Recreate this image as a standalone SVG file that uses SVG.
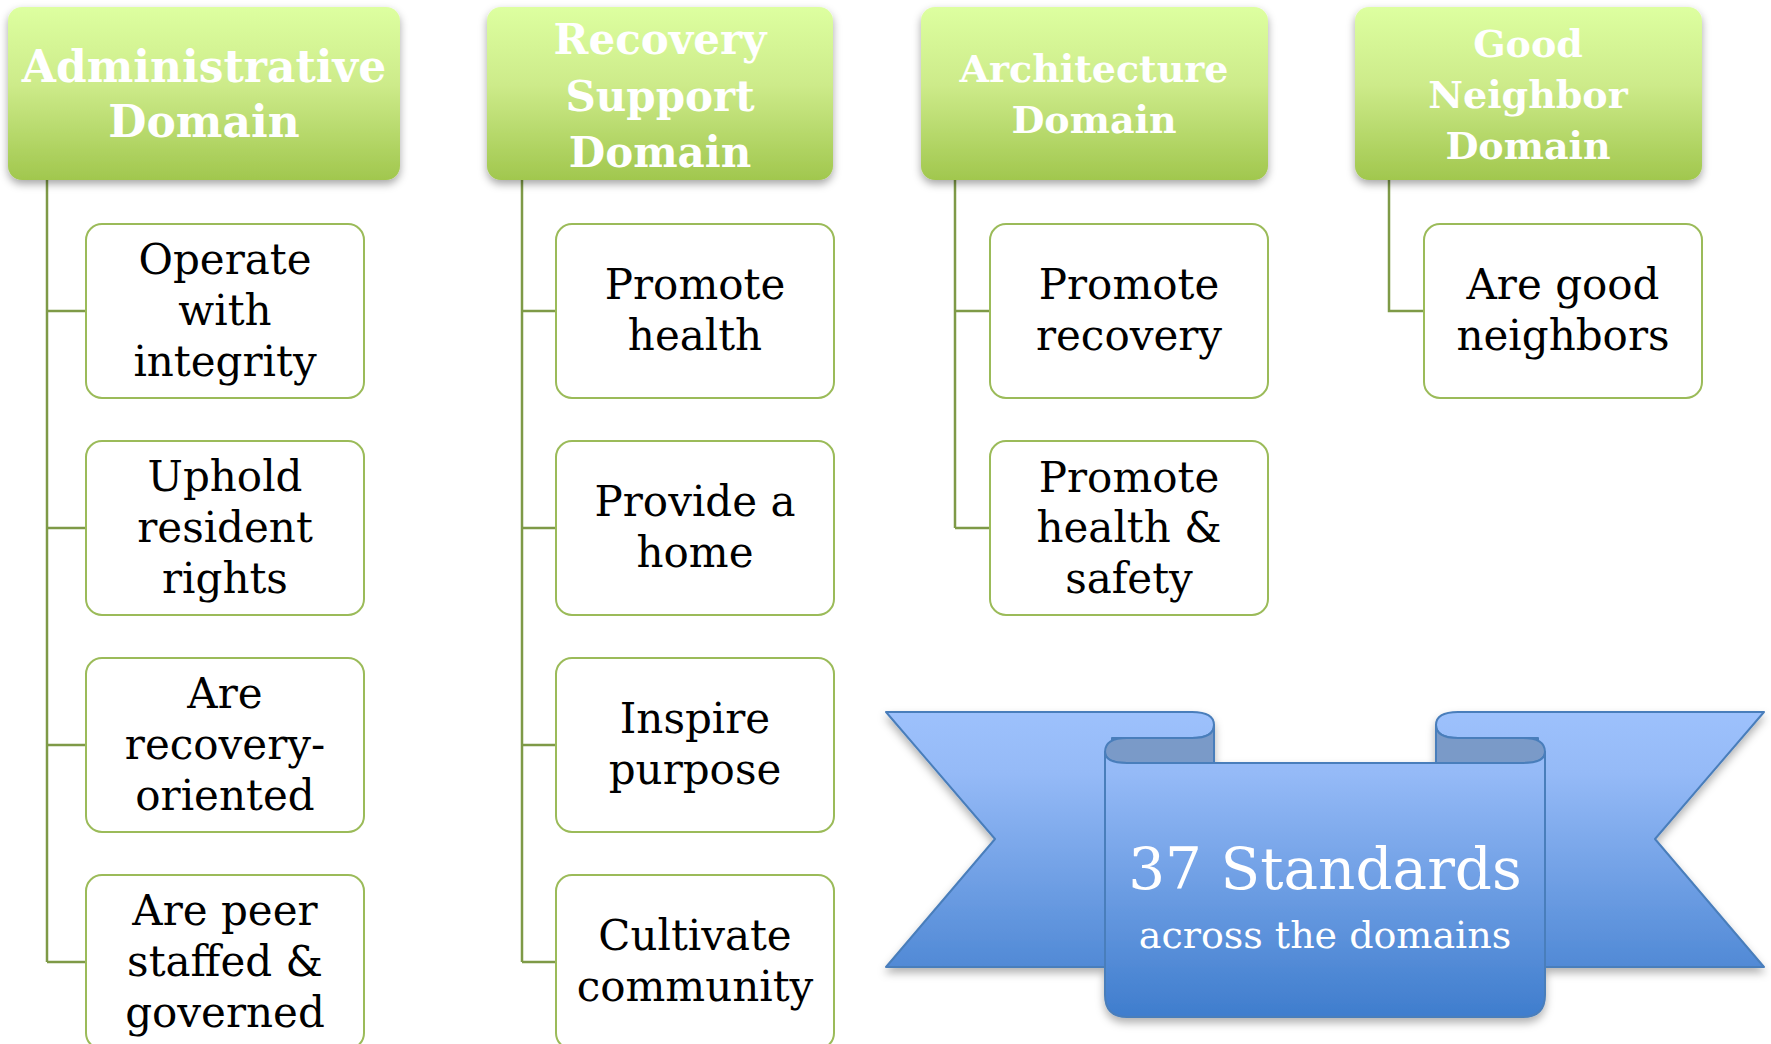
<svg xmlns="http://www.w3.org/2000/svg" width="1771" height="1044" viewBox="0 0 1771 1044">
  <defs>
    <linearGradient id="gHead" x1="0" y1="0" x2="0" y2="1">
      <stop offset="0" stop-color="#ddffa0"/>
      <stop offset="0.45" stop-color="#cdeb8a"/>
      <stop offset="1" stop-color="#a1c74e"/>
    </linearGradient>
    <linearGradient id="gBlue" gradientUnits="userSpaceOnUse" x1="0" y1="712" x2="0" y2="1017">
      <stop offset="0" stop-color="#9dc1fc"/>
      <stop offset="0.2" stop-color="#95baf7"/>
      <stop offset="1" stop-color="#3f7dcd"/>
    </linearGradient>
    <filter id="shadow" x="-10%" y="-10%" width="120%" height="130%">
      <feDropShadow dx="0" dy="4" stdDeviation="4" flood-color="#000" flood-opacity="0.35"/>
    </filter>
    <filter id="rshadow" x="-10%" y="-10%" width="120%" height="130%">
      <feDropShadow dx="0" dy="5" stdDeviation="4" flood-color="#000" flood-opacity="0.3"/>
    </filter>
  </defs>
  <style>
    .head { fill: url(#gHead); filter: url(#shadow); }
    .htxt { font-family: "DejaVu Serif", serif; font-weight: bold; fill: #ffffff; text-anchor: middle; }
    .box { fill: #ffffff; stroke: #9bbb59; stroke-width: 2; }
    .btxt { font-family: "DejaVu Serif", serif; font-size: 42px; fill: #000000; text-anchor: middle; }
    .conn { fill: none; stroke: #7e9a47; stroke-width: 2.5; }
    .rib { fill: url(#gBlue); stroke: #4a7ebb; stroke-width: 2; stroke-linejoin: round; }
    .fold { fill: #7a9ac8; stroke: #4a7ebb; stroke-width: 2; stroke-linejoin: round; }
    .rtxt { font-family: "DejaVu Serif", serif; fill: #ffffff; text-anchor: middle; }
  </style>

  <rect width="1771" height="1044" fill="#ffffff"/>

  <g id="connectors">
    <path class="conn" d="M47,180 V962 M47,311 H86 M47,528 H86 M47,745 H86 M47,962 H86"/>
    <path class="conn" d="M522,180 V962 M522,311 H556 M522,528 H556 M522,745 H556 M522,962 H556"/>
    <path class="conn" d="M955,180 V528 M955,311 H990 M955,528 H990"/>
    <path class="conn" d="M1389,180 V311 H1424"/>
  </g>

  <g id="admin-domain">
    <rect class="head" x="8" y="7" width="392" height="173" rx="14"/>
    <text class="htxt" font-size="44" x="204" y="82">Administrative</text>
    <text class="htxt" font-size="44" x="204" y="137">Domain</text>
  </g>
  <g id="recovery-domain">
    <rect class="head" x="487" y="7" width="346" height="173" rx="14"/>
    <text class="htxt" font-size="42" x="660" y="54">Recovery</text>
    <text class="htxt" font-size="42" x="660" y="111">Support</text>
    <text class="htxt" font-size="42" x="660" y="167">Domain</text>
  </g>
  <g id="architecture-domain">
    <rect class="head" x="921" y="7" width="347" height="173" rx="14"/>
    <text class="htxt" font-size="38" x="1094" y="82">Architecture</text>
    <text class="htxt" font-size="38" x="1094" y="133">Domain</text>
  </g>
  <g id="good-neighbor-domain">
    <rect class="head" x="1355" y="7" width="347" height="173" rx="14"/>
    <text class="htxt" font-size="38" x="1528" y="57">Good</text>
    <text class="htxt" font-size="38" x="1528" y="108">Neighbor</text>
    <text class="htxt" font-size="38" x="1528" y="159">Domain</text>
  </g>

  <g id="operate-with-integrity">
    <rect class="box" x="86" y="224" width="278" height="174" rx="16"/>
    <text class="btxt" x="225" y="274">Operate</text>
    <text class="btxt" x="225" y="325">with</text>
    <text class="btxt" x="225" y="376">integrity</text>
  </g>
  <g id="uphold-resident-rights">
    <rect class="box" x="86" y="441" width="278" height="174" rx="16"/>
    <text class="btxt" x="225" y="491">Uphold</text>
    <text class="btxt" x="225" y="542">resident</text>
    <text class="btxt" x="225" y="593">rights</text>
  </g>
  <g id="are-recovery-oriented">
    <rect class="box" x="86" y="658" width="278" height="174" rx="16"/>
    <text class="btxt" x="225" y="708">Are</text>
    <text class="btxt" x="225" y="759">recovery-</text>
    <text class="btxt" x="225" y="810">oriented</text>
  </g>
  <g id="are-peer-staffed">
    <rect class="box" x="86" y="875" width="278" height="174" rx="16"/>
    <text class="btxt" x="225" y="925">Are peer</text>
    <text class="btxt" x="225" y="976">staffed &amp;</text>
    <text class="btxt" x="225" y="1027">governed</text>
  </g>

  <g id="promote-health">
    <rect class="box" x="556" y="224" width="278" height="174" rx="16"/>
    <text class="btxt" x="695" y="299">Promote</text>
    <text class="btxt" x="695" y="350">health</text>
  </g>
  <g id="provide-a-home">
    <rect class="box" x="556" y="441" width="278" height="174" rx="16"/>
    <text class="btxt" x="695" y="516">Provide a</text>
    <text class="btxt" x="695" y="567">home</text>
  </g>
  <g id="inspire-purpose">
    <rect class="box" x="556" y="658" width="278" height="174" rx="16"/>
    <text class="btxt" x="695" y="733">Inspire</text>
    <text class="btxt" x="695" y="784">purpose</text>
  </g>
  <g id="cultivate-community">
    <rect class="box" x="556" y="875" width="278" height="174" rx="16"/>
    <text class="btxt" x="695" y="950">Cultivate</text>
    <text class="btxt" x="695" y="1001">community</text>
  </g>

  <g id="promote-recovery">
    <rect class="box" x="990" y="224" width="278" height="174" rx="16"/>
    <text class="btxt" x="1129" y="299">Promote</text>
    <text class="btxt" x="1129" y="350">recovery</text>
  </g>
  <g id="promote-health-safety">
    <rect class="box" x="990" y="441" width="278" height="174" rx="16"/>
    <text class="btxt" x="1129" y="492">Promote</text>
    <text class="btxt" x="1129" y="542">health &amp;</text>
    <text class="btxt" x="1129" y="593">safety</text>
  </g>

  <g id="are-good-neighbors">
    <rect class="box" x="1424" y="224" width="278" height="174" rx="16"/>
    <text class="btxt" x="1563" y="299">Are good</text>
    <text class="btxt" x="1563" y="350">neighbors</text>
  </g>

  <g id="standards-ribbon">
    <g filter="url(#rshadow)">
      <path class="rib" d="M886,712 H1192 Q1214,712 1214,725 Q1214,738 1192,738 H1112 V967 H886 L995,839 Z"/>
      <path class="rib" d="M1764,712 H1458 Q1436,712 1436,725 Q1436,738 1458,738 H1538 V967 H1764 L1655,839 Z"/>
      <path class="fold" d="M1105,752 Q1105,738 1127,738 H1192 Q1214,738 1214,725 V763 H1127 Q1105,763 1105,752 Z"/>
      <path class="fold" d="M1545,752 Q1545,738 1523,738 H1458 Q1436,738 1436,725 V763 H1523 Q1545,763 1545,752 Z"/>
      <path class="rib" d="M1105,752 Q1105,763 1127,763 H1523 Q1545,763 1545,752 V995 Q1545,1017 1523,1017 H1127 Q1105,1017 1105,995 Z"/>
    </g>
    <text class="rtxt" font-size="58" x="1325" y="889">37 Standards</text>
    <text class="rtxt" font-size="38" x="1325" y="948">across the domains</text>
  </g>
</svg>
